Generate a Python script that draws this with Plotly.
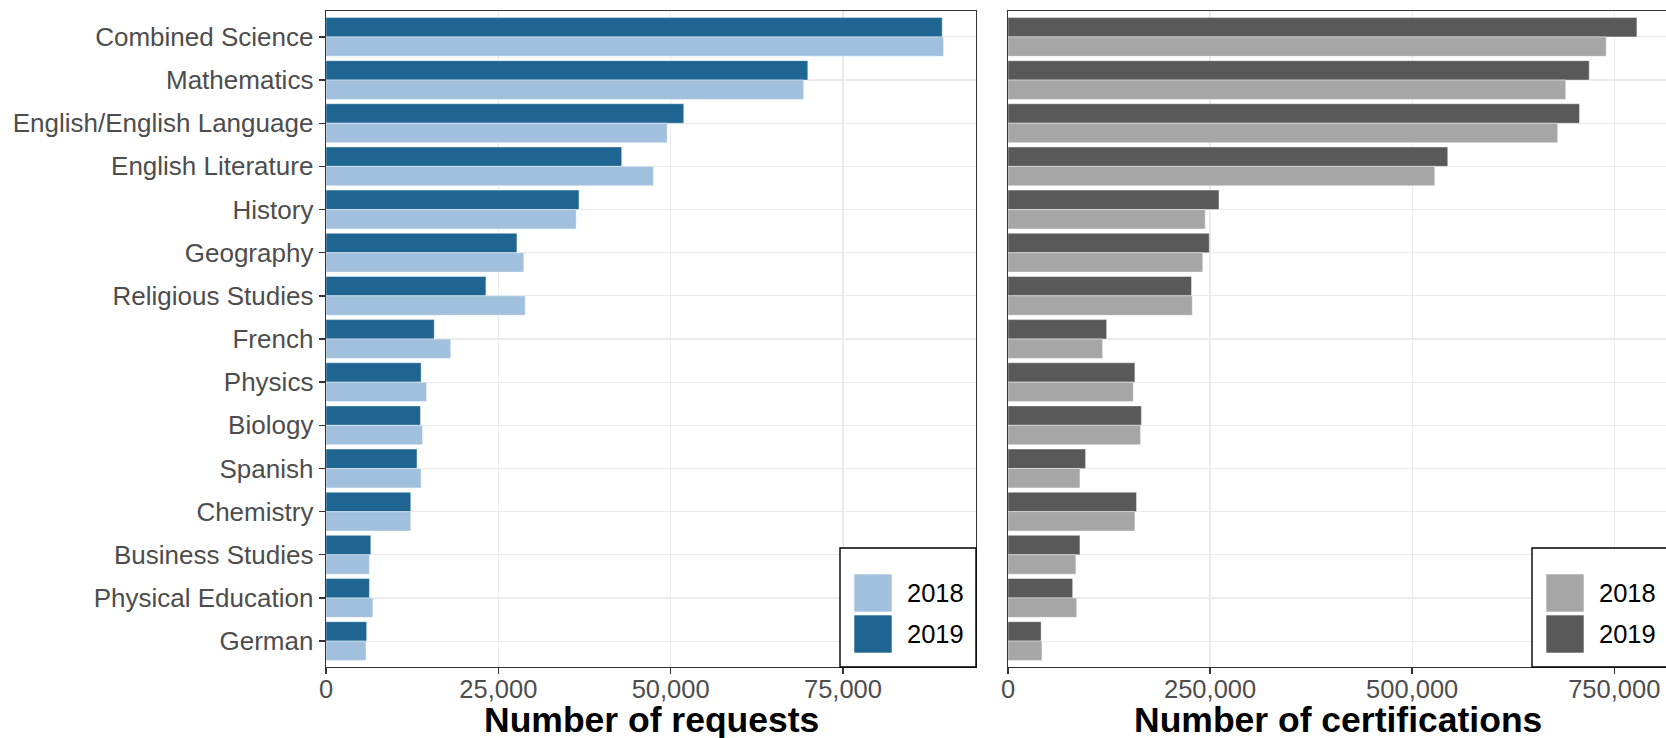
import plotly.graph_objects as go

subjects = ["Combined Science", "Mathematics", "English/English Language", "English Literature",
            "History", "Geography", "Religious Studies", "French", "Physics", "Biology",
            "Spanish", "Chemistry", "Business Studies", "Physical Education", "German"]

requests_2018 = [89600, 69300, 49500, 47500, 36300, 28700, 28900, 18100, 14600, 14000,
                 13800, 12300, 6300, 6800, 5800]
requests_2019 = [89400, 69900, 51900, 42900, 36700, 27700, 23200, 15700, 13800, 13700,
                 13200, 12300, 6500, 6300, 5900]

cert_2018 = [740000, 690000, 680000, 528000, 244000, 241000, 228000, 117000, 155000, 164000,
             89000, 157000, 84000, 85000, 42000]
cert_2019 = [778000, 719000, 707000, 544000, 261000, 249000, 227000, 122000, 157000, 165000,
             96000, 159000, 89000, 80000, 41000]

years = ["2018", "2019"]
req_colors = {"2018": "#A0C0DE", "2019": "#1E6591"}
cert_colors = {"2018": "#A6A6A6", "2019": "#595959"}

x_ticks_req = [0, 25000, 50000, 75000]
x_ticks_cert = [0, 250000, 500000, 750000]

FONT = "Liberation Sans, Arial, sans-serif"
TXT = 25.5
W, H = 1666, 738
ML, MR, MT, MB = 326, 0, 11, 71
PW = W - ML - MR
PH = H - MT - MB


def px(x):
    return (x - ML) / PW


def py(y):
    return (H - MB - y) / PH


fig = go.Figure()

edge = dict(color="rgba(255,255,255,0.55)", width=0.8)
for yr, vals in (("2019", requests_2019), ("2018", requests_2018)):
    fig.add_trace(go.Bar(y=subjects, x=vals, orientation="h", name=yr,
                         marker=dict(color=req_colors[yr], line=edge),
                         xaxis="x", yaxis="y", offsetgroup=yr, showlegend=False,
                         hoverinfo="skip"))
for yr, vals in (("2019", cert_2019), ("2018", cert_2018)):
    fig.add_trace(go.Bar(y=subjects, x=vals, orientation="h", name=yr,
                         marker=dict(color=cert_colors[yr], line=edge),
                         xaxis="x2", yaxis="y2", offsetgroup=yr, showlegend=False,
                         hoverinfo="skip"))

tickfont = dict(family=FONT, size=TXT, color="#4D4D4D")
axis_common = dict(showgrid=True, gridcolor="#EBEBEB", gridwidth=1.2, zeroline=False,
                   showline=True, linecolor="#333333", linewidth=1.4)

fig.update_layout(
    width=W, height=H, autosize=False,
    margin=dict(l=ML, r=MR, t=MT, b=MB),
    paper_bgcolor="white", plot_bgcolor="white",
    barmode="group", bargap=0.1, bargroupgap=0,
    showlegend=False,
    xaxis=dict(domain=[0, px(976)], range=[0, 94300], tickvals=x_ticks_req,
               tickformat=",", ticks="outside", ticklen=6, tickwidth=1.4,
               tickcolor="#333333", mirror=True, anchor="y", ticklabelstandoff=-7,
               tickfont=tickfont, **axis_common),
    yaxis=dict(categoryorder="array", categoryarray=subjects, range=[14.6, -0.6],
               ticks="outside", ticklen=6, tickwidth=1.4, tickcolor="#333333",
               mirror=True, anchor="x", ticklabelstandoff=0,
               tickfont=dict(family=FONT, size=26, color="#4D4D4D"), **axis_common),
    xaxis2=dict(domain=[px(1008), 1], range=[0, 814000], tickvals=x_ticks_cert,
                tickformat=",", ticks="outside", ticklen=6, tickwidth=1.4,
                tickcolor="#333333", mirror=True, anchor="y2", ticklabelstandoff=-7,
                tickfont=tickfont, **axis_common),
    yaxis2=dict(categoryorder="array", categoryarray=subjects, range=[14.6, -0.6],
                showticklabels=False, ticks="", mirror=False, anchor="x2",
                **axis_common),
)

# Axis titles
for label, cx in (("Number of requests", 651), ("Number of certifications", 1338)):
    fig.add_annotation(text="<b>" + label + "</b>", x=px(cx), y=py(720),
                       xref="paper", yref="paper", xanchor="center", yanchor="middle",
                       showarrow=False, font=dict(family=FONT, size=35.5, color="black"))


# Legends (ggplot style, inside each panel's bottom-right corner)
def add_legend(box_left, box_right, colors):
    fig.add_shape(type="rect", xref="paper", yref="paper",
                  x0=px(box_left), x1=px(box_right), y0=py(667), y1=py(548),
                  fillcolor="white", line=dict(color="black", width=1.4), layer="above")
    key_left = box_left + 14
    for i, yr in enumerate(years):
        top = 574 + i * 41
        fig.add_shape(type="rect", xref="paper", yref="paper",
                      x0=px(key_left), x1=px(key_left + 38), y0=py(top + 38), y1=py(top),
                      fillcolor=colors[yr], line=dict(color="rgba(255,255,255,0.6)", width=1),
                      layer="above")
        fig.add_annotation(text=yr, x=px(key_left + 51), y=py(top + 19),
                           xref="paper", yref="paper", xanchor="left", yanchor="middle",
                           showarrow=False, font=dict(family=FONT, size=TXT, color="black"))


add_legend(840, 976, req_colors)
add_legend(1532, 1680, cert_colors)

fig.write_html("out.html",
               config={"displayModeBar": False, "staticPlot": True},
               post_script="document.body.style.margin='0';"
                           "document.documentElement.style.overflow='hidden';"
                           "document.body.style.overflow='hidden';")
